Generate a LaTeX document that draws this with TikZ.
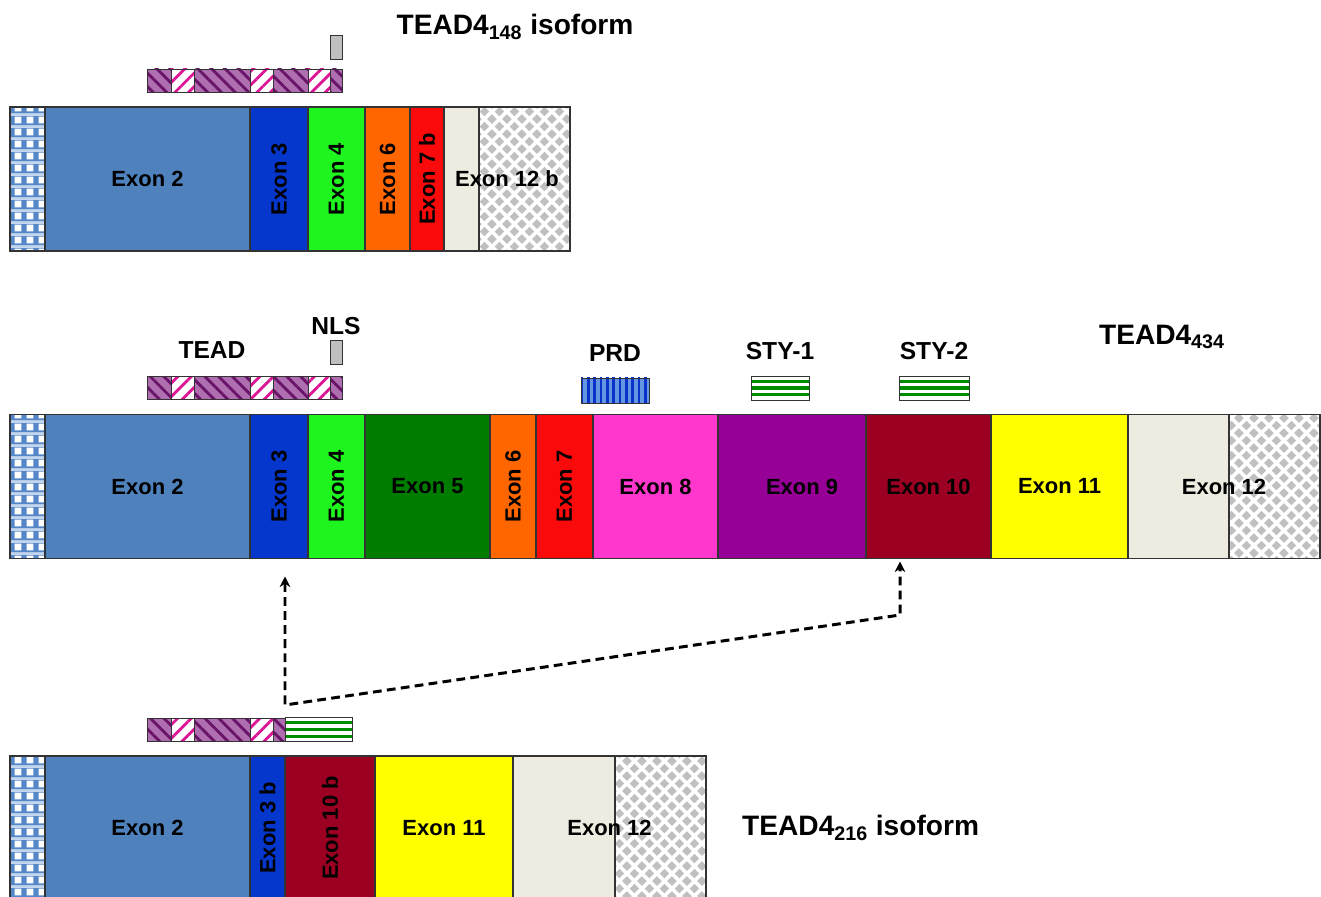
\documentclass[tikz,border=0pt]{standalone}
\usepackage{fontspec}
\setmainfont{Liberation Sans}
\usepackage{xcolor}
\usepackage{tikz}
\usetikzlibrary{positioning, arrows.meta, patterns.meta, calc}
\definecolor{GinghamBlue}{RGB}{85,135,200}
\definecolor{SteelBlue}{RGB}{79,129,189}
\definecolor{RoyalBlue}{RGB}{5,55,205}
\definecolor{LimeGreen}{RGB}{30,245,30}
\definecolor{ForestGreen}{RGB}{0,125,0}
\definecolor{Pumpkin}{RGB}{255,102,0}
\definecolor{BrightRed}{RGB}{250,10,10}
\definecolor{HotPink}{RGB}{255,55,205}
\definecolor{Plum}{RGB}{150,0,150}
\definecolor{Maroon}{RGB}{155,0,35}
\definecolor{Lemon}{RGB}{255,255,0}
\definecolor{Linen}{RGB}{238,236,225}
\definecolor{DiamondGray}{RGB}{192,192,192}
\definecolor{Orchid}{RGB}{175,110,175}
\definecolor{DarkPlum}{RGB}{105,20,105}
\definecolor{Fuchsia}{RGB}{220,20,150}
\definecolor{StripeBlue}{RGB}{100,150,225}
\definecolor{DeepBlue}{RGB}{10,50,200}
\definecolor{StripeGreen}{RGB}{0,140,0}

\tikzdeclarepattern{
  name=gingham, type=colored,
  bottom left={(0pt,0pt)}, top right={(7pt,7pt)}, tile size={(7pt,7pt)},
  code={
    \path[fill=GinghamBlue] (0pt,0pt) rectangle (7pt,7pt);
    \path[fill=GinghamBlue!35] (0pt,5.5pt) rectangle (7pt,7pt);
    \path[fill=white] (1.5pt,1pt) rectangle (5.5pt,5pt);
  }
}
\tikzdeclarepattern{
  name=diamonds, type=colored,
  bottom left={(0pt,0pt)}, top right={(8.5pt,8.5pt)}, tile size={(8.5pt,8.5pt)},
  code={
    \path[fill=white] (0pt,0pt) rectangle (8.5pt,8.5pt);
    \path[fill=DiamondGray] (4.25pt,1.55pt) -- (6.95pt,4.25pt) -- (4.25pt,6.95pt) -- (1.55pt,4.25pt) -- cycle;
    \path[fill=DiamondGray] (0pt,0pt) -- (2.7pt,0pt) -- (0pt,2.7pt) -- cycle;
    \path[fill=DiamondGray] (8.5pt,0pt) -- (5.8pt,0pt) -- (8.5pt,2.7pt) -- cycle;
    \path[fill=DiamondGray] (8.5pt,8.5pt) -- (5.8pt,8.5pt) -- (8.5pt,5.8pt) -- cycle;
    \path[fill=DiamondGray] (0pt,8.5pt) -- (2.7pt,8.5pt) -- (0pt,5.8pt) -- cycle;
  }
}

\begin{document}
\begin{tikzpicture}[
  exon/.style={rectangle, draw=black!80, line width=0.6pt, outer sep=0pt, inner sep=0pt,
               minimum height=2.88cm, font=\fontsize{12.5}{14}\selectfont\bfseries},
  utr/.style={exon, pattern=gingham, minimum width=0.70cm},
  tail/.style={exon, fill=Linen,
               path picture={\path[pattern=diamonds, draw=black!80, line width=0.6pt]
                 ($(path picture bounding box.north east)+(-1.82,0)$)
                 rectangle (path picture bounding box.south east);}},
  dom/.style={rectangle, draw=black!80, line width=0.5pt, outer sep=0pt, inner sep=0pt,
              minimum height=0.46cm},
  hatch/.style={dom, preaction={fill=Orchid},
                pattern={Lines[angle=-45,distance=5.5pt,line width=1.6pt]}, pattern color=DarkPlum},
  hatchw/.style={dom, preaction={fill=white},
                 pattern={Lines[angle=45,distance=5.5pt,line width=1.6pt]}, pattern color=Fuchsia},
  nls/.style={dom, fill=gray!50, minimum width=0.24cm, minimum height=0.48cm},
  prd/.style={dom, minimum height=0.50cm, preaction={fill=StripeBlue},
              pattern={Lines[angle=90,distance=3.6pt,line width=1.5pt]}, pattern color=DeepBlue},
  sty/.style={dom, minimum height=0.48cm, fill=white,
              path picture={\foreach \f in {0.22,0.5,0.78}
                \draw[StripeGreen, line width=1.8pt]
                  ($(path picture bounding box.south west)!\f!(path picture bounding box.north west)$)
                  -- ++(3,0);}},
  lbl/.style={font=\fontsize{14}{16}\selectfont\bfseries},
  ttl/.style={font=\fontsize{16}{18}\selectfont\bfseries},
  splice/.style={{Stealth[length=6pt,width=6pt]}-{Stealth[length=6pt,width=6pt]},
                 line width=1.7pt, dash pattern=on 5pt off 3pt}
]
\useasboundingbox (0,0) rectangle (26.42,17.92);

% TEAD4-148 isoform
\node[utr, anchor=west] (shUtr) at (0.20,14.34) {};
\node[exon, fill=SteelBlue,  minimum width=4.10cm, right=0pt of shUtr] (shEx2)  {Exon 2};
\node[exon, fill=RoyalBlue,  minimum width=1.16cm, right=0pt of shEx2] (shEx3)  {\rotatebox{90}{Exon 3}};
\node[exon, fill=LimeGreen,  minimum width=1.14cm, right=0pt of shEx3] (shEx4)  {\rotatebox{90}{Exon 4}};
\node[exon, fill=Pumpkin,    minimum width=0.90cm, right=0pt of shEx4] (shEx6)  {\rotatebox{90}{Exon 6}};
\node[exon, fill=BrightRed,  minimum width=0.68cm, right=0pt of shEx6] (shEx7b) {\rotatebox{90}{Exon 7 b}};
\node[tail,                  minimum width=2.52cm, right=0pt of shEx7b] (shEx12b) {Exon 12 b};

\node[hatch,  minimum width=0.48cm, anchor=west] (shD1) at (2.94,16.31) {};
\node[hatchw, minimum width=0.46cm, right=0pt of shD1] (shD2) {};
\node[hatch,  minimum width=1.12cm, right=0pt of shD2] (shD3) {};
\node[hatchw, minimum width=0.46cm, right=0pt of shD3] (shD4) {};
\node[hatch,  minimum width=0.70cm, right=0pt of shD4] (shD5) {};
\node[hatchw, minimum width=0.44cm, right=0pt of shD5] (shD6) {};
\node[hatch,  minimum width=0.24cm, right=0pt of shD6] (shD7) {};
\node[nls, above=0.20cm of shD7] (shNls) {};
\node[ttl] (shTitle) at (10.30,17.38) {TEAD4\textsubscript{148} isoform};

% TEAD4-434
\node[utr, anchor=west] (flUtr) at (0.20,8.19) {};
\node[exon, fill=SteelBlue,   minimum width=4.10cm, right=0pt of flUtr] (flEx2)  {Exon 2};
\node[exon, fill=RoyalBlue,   minimum width=1.16cm, right=0pt of flEx2] (flEx3)  {\rotatebox{90}{Exon 3}};
\node[exon, fill=LimeGreen,   minimum width=1.14cm, right=0pt of flEx3] (flEx4)  {\rotatebox{90}{Exon 4}};
\node[exon, fill=ForestGreen, minimum width=2.50cm, right=0pt of flEx4] (flEx5)  {Exon 5};
\node[exon, fill=Pumpkin,     minimum width=0.92cm, right=0pt of flEx5] (flEx6)  {\rotatebox{90}{Exon 6}};
\node[exon, fill=BrightRed,   minimum width=1.14cm, right=0pt of flEx6] (flEx7)  {\rotatebox{90}{Exon 7}};
\node[exon, fill=HotPink,     minimum width=2.50cm, right=0pt of flEx7] (flEx8)  {Exon 8};
\node[exon, fill=Plum,        minimum width=2.96cm, right=0pt of flEx8] (flEx9)  {\hspace*{0.4cm}Exon 9};
\node[exon, fill=Maroon,      minimum width=2.50cm, right=0pt of flEx9] (flEx10) {Exon 10};
\node[exon, fill=Lemon,       minimum width=2.74cm, right=0pt of flEx10] (flEx11) {Exon 11};
\node[tail,                   minimum width=3.84cm, right=0pt of flEx11] (flEx12) {Exon 12};

\node[hatch,  minimum width=0.48cm, anchor=west] (flD1) at (2.94,10.16) {};
\node[hatchw, minimum width=0.46cm, right=0pt of flD1] (flD2) {};
\node[hatch,  minimum width=1.12cm, right=0pt of flD2] (flD3) {};
\node[hatchw, minimum width=0.46cm, right=0pt of flD3] (flD4) {};
\node[hatch,  minimum width=0.70cm, right=0pt of flD4] (flD5) {};
\node[hatchw, minimum width=0.44cm, right=0pt of flD5] (flD6) {};
\node[hatch,  minimum width=0.24cm, right=0pt of flD6] (flD7) {};
\node[nls, above=0.24cm of flD7] (flNls) {};
\node[prd, minimum width=1.36cm] (flPrd)  at (12.30,10.11) {};
\node[sty, minimum width=1.16cm] (flSty1) at (15.60,10.16) {};
\node[sty, minimum width=1.40cm] (flSty2) at (18.68,10.16) {};

\node[lbl, above=0.24cm of flD3, xshift=-0.20cm] (tdLbl)  {TEAD};
\node[lbl, above=0pt of flNls]                  (nlsLbl) {NLS};
\node[lbl, above=0.20cm of flPrd]               (prdLbl) {PRD};
\node[lbl, above=0.20cm of flSty1]              (s1Lbl)  {STY-1};
\node[lbl, above=0.20cm of flSty2]              (s2Lbl)  {STY-2};
\node[ttl] (flTitle) at (23.24,11.18) {TEAD4\textsubscript{434}};

% TEAD4-216 isoform
\node[utr, anchor=west] (mdUtr) at (0.20,1.36) {};
\node[exon, fill=SteelBlue, minimum width=4.10cm, right=0pt of mdUtr]  (mdEx2)   {Exon 2};
\node[exon, fill=RoyalBlue, minimum width=0.70cm, right=0pt of mdEx2]  (mdEx3b)  {\rotatebox{90}{Exon 3 b}};
\node[exon, fill=Maroon,    minimum width=1.80cm, right=0pt of mdEx3b] (mdEx10b) {\rotatebox{90}{Exon 10 b}};
\node[exon, fill=Lemon,     minimum width=2.76cm, right=0pt of mdEx10b] (mdEx11) {Exon 11};
\node[tail,                 minimum width=3.86cm, right=0pt of mdEx11] (mdEx12)  {Exon 12};

\node[hatch,  minimum width=0.48cm, anchor=west] (mdD1) at (2.94,3.33) {};
\node[hatchw, minimum width=0.46cm, right=0pt of mdD1] (mdD2) {};
\node[hatch,  minimum width=1.12cm, right=0pt of mdD2] (mdD3) {};
\node[hatchw, minimum width=0.46cm, right=0pt of mdD3] (mdD4) {};
\node[hatch,  minimum width=0.24cm, right=0pt of mdD4] (mdD5) {};
\node[sty,    minimum width=1.34cm, right=0pt of mdD5] (mdSty) {};
\node[ttl, right=0.60cm of mdEx12] (mdTitle) {TEAD4\textsubscript{216} isoform};

% splice junction
\coordinate (bendL) at (5.70,3.82);
\coordinate (bendR) at (18.00,5.62);
\draw[splice] ($(flEx3.south -| bendL)+(0,-0.36)$) -- (bendL) -- (bendR)
  -- ($(flEx10.south -| bendR)+(0,-0.06)$);

\end{tikzpicture}
\end{document}
